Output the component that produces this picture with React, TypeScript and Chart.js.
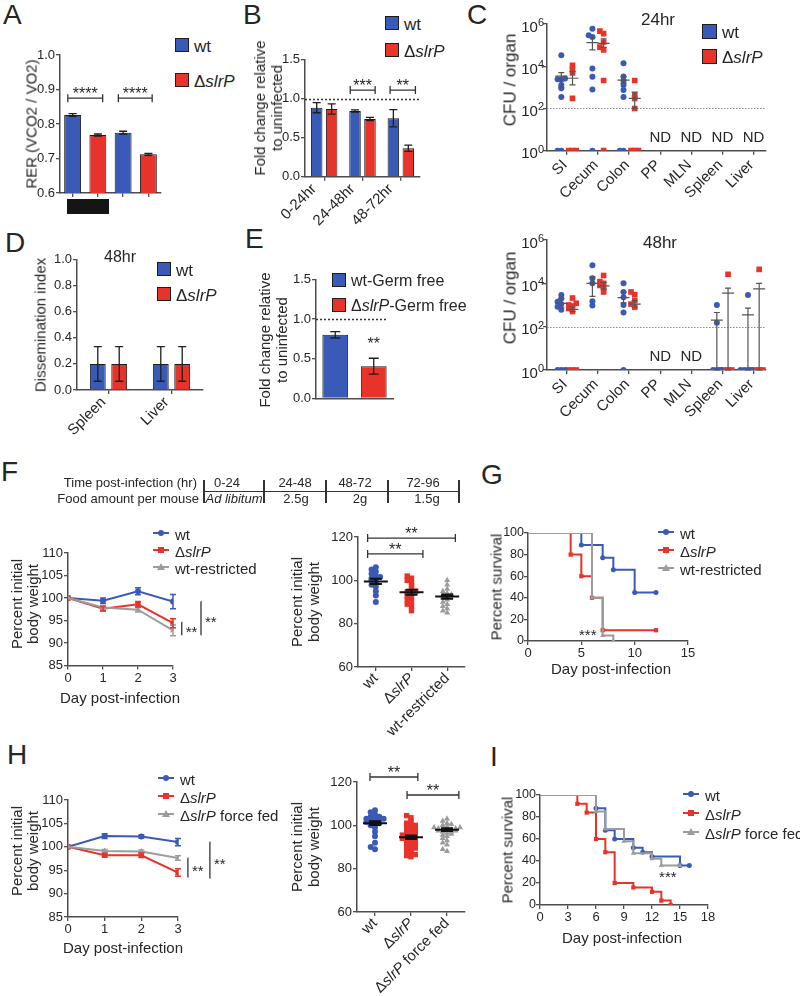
import React, { useEffect, useRef } from 'react';
import { Chart, registerables } from 'chart.js';

Chart.register(...registerables);

const FONT = '"Liberation Sans", Arial, Helvetica, sans-serif';
const TXT = '#262626';
const AXC = '#4d4d4d';
const BLUE = '#3a5ab7';
const RED = '#e8332a';
const GRAY = '#9c9c9c';
const EDGE = '#1e1e1e';

/* ---------------- DATA ---------------- */
// A: respiratory exchange ratio
const aBars = ['wt', 'ΔslrP', 'wt', 'ΔslrP'];
const aRER = [0.826, 0.768, 0.775, 0.712];
const aRERErr = [0.004, 0.003, 0.004, 0.003];

// B: food intake fold change
const bPeriods = ['0-24hr', '24-48hr', '48-72hr'];
const bWt = [0.885, 0.842, 0.749];
const bWtErr = [0.065, 0.015, 0.11];
const bSlrP = [0.868, 0.74, 0.364];
const bSlrPErr = [0.065, 0.02, 0.04];

// C: CFU per organ (1 = not detected, plotted on the axis)
const cOrgans = ['SI', 'Cecum', 'Colon', 'PP', 'MLN', 'Spleen', 'Liver'];
const cLogTicks = [1, 1e2, 1e4, 1e6];
const c24Wt = [
  [3.3e4, 2.6e3, 2.4e3, 2.3e3, 1.3e3, 900, 350, 1, 1],
  [5.9e5, 2.9e5, 2.4e5, 7.8e3, 3.2e3, 800, 1],
  [1.4e4, 3.3e3, 2.1e3, 1.3e3, 750, 350, 1, 1],
  [], [], [], [],
];
const c24SlrP = [
  [1.1e4, 7e3, 4.8e3, 300, 1, 1, 1],
  [4.6e5, 3.5e5, 1.4e5, 8e4, 6e4, 2.1e3, 1],
  [2.1e3, 430, 300, 100, 1, 1, 1],
  [], [], [], [],
];
const c24WtMean = [3.4e3, 1.3e5, 2.2e3];
const c24WtLo = [1e3, 5.9e4, 1.6e3];
const c24WtHi = [5e3, 2.3e5, 3.2e3];
const c24SlrPMean = [2.7e3, 1.2e5, 300];
const c24SlrPLo = [1.3e3, 7.9e4, 100];
const c24SlrPHi = [5.5e3, 2e5, 600];

const c48Wt = [
  [2.9e3, 2e3, 1.4e3, 1.1e3, 830, 600, 1, 1, 1],
  [6.9e4, 1.7e4, 1e4, 1.5e3, 950],
  [1e4, 4e3, 2.3e3, 1e3, 450, 1],
  [], [],
  [1e3, 150, 1, 1, 1],
  [2.9e3, 1, 1, 1, 1],
];
const c48SlrP = [
  [2.1e3, 1.2e3, 1e3, 900, 700, 500, 1, 1, 1],
  [2.3e4, 1.2e4, 1e4, 8e3, 6e3, 4e3],
  [4e3, 3e3, 1.6e3, 1.1e3, 800],
  [], [],
  [2.6e4, 1, 1, 1, 1],
  [4.4e4, 1, 1, 1, 1],
];
const c48Groups = [0, 1, 2, 5, 6];
const c48WtMean = [1.2e3, 1e4, 2.2e3, 200, 350];
const c48WtLo = [800, 2.5e3, 1.26e3, 1, 1];
const c48WtHi = [2e3, 2e4, 4e3, 450, 720];
const c48SlrPMean = [630, 7.6e3, 1.1e3, 3.5e3, 5.5e3];
const c48SlrPLo = [500, 5.6e3, 800, 1, 1];
const c48SlrPHi = [830, 1.1e4, 1.6e3, 6e3, 1e4];

// D: dissemination index
const dOrgans = ['Spleen', 'Liver'];
const dWt = [0.2, 0.2];
const dWtErr = [0.133, 0.133];
const dSlrP = [0.2, 0.2];
const dSlrPErr = [0.133, 0.133];

// E: germ free fold change
const eGroups = ['wt-Germ free', 'ΔslrP-Germ free'];
const eValues = [0.8, 0.405];
const eErr = [0.04, 0.1];

// F: body weight with food restriction
const fDays = [0, 1, 2, 3];
const fWt = [100, 99.4, 101.5, 99.2];
const fWtErr = [0, 0.6, 0.8, 1.6];
const fSlrP = [100, 97.6, 98.6, 94.4];
const fSlrPErr = [0, 0.5, 0.6, 1.0];
const fRestr = [100, 97.9, 97.4, 92.8];
const fRestrErr = [0, 0.4, 0.5, 1.2];
const fScWt = [106, 105, 104, 103, 102, 101.5, 101, 100.5, 100, 99, 98, 97, 95, 93, 90];
const fScSlrP = [102, 101, 100, 99, 97.5, 96, 95, 94.5, 94, 93, 92, 91, 90, 89, 88, 86];
const fScRestr = [100, 98, 96, 95, 94, 93.5, 93, 92.5, 92, 91, 90, 89, 88, 87, 86, 85];
const fScMean = [99.5, 94.5, 92.5];
const fScSem = [1.2, 1.1, 1.0];

// G: survival with food restriction
const gWtDays = [0, 5, 7, 8, 10, 12];
const gWtSurv = [100, 89, 77, 66, 45, 45];
const gSlrPDays = [0, 4, 5, 6, 7, 12];
const gSlrPSurv = [100, 80, 60, 40, 10, 10];
const gRestrDays = [0, 6, 7, 8];
const gRestrSurv = [100, 40, 5, 0];

// H: body weight with force feeding
const hWt = [100, 102.3, 102.2, 101.0];
const hWtErr = [0, 0.5, 0.3, 0.8];
const hSlrP = [100, 98.2, 98.2, 94.5];
const hSlrPErr = [0, 0.4, 0.5, 0.8];
const hFF = [100, 99.1, 99.0, 97.6];
const hFFErr = [0, 0.3, 0.3, 0.5];
const hScWt = [107, 106, 105, 104, 104, 103.5, 103, 103, 102.5, 102, 102, 101.5, 101, 101, 100.5, 100, 99, 97, 95, 92, 90, 89];
const hScSlrP = [104.5, 103.5, 102, 101, 100.5, 100, 99.5, 99, 98.5, 98, 97.5, 97, 96.5, 96, 95.5, 95, 95, 94.5, 94, 94, 93.5, 93, 92.5, 92, 91.5, 91, 90.5, 90, 89.5, 89, 88.5, 88, 87, 86.5, 86, 85.5];
const hScFF = [103, 102, 101, 100.5, 100, 99.5, 99, 99, 98.5, 98.5, 98, 98, 98, 97.5, 97.5, 97, 97, 96.5, 96, 95.5, 95, 94, 93, 92, 91, 89, 88];
const hScMean = [101, 94.5, 98];
const hScSem = [0.9, 0.8, 0.6];

// I: survival with force feeding
const iWtDays = [0, 6, 7, 8, 10, 11, 12, 15, 16];
const iWtSurv = [100, 88, 68, 60, 52, 48, 44, 36, 36];
const iSlrPDays = [0, 4, 5, 6, 7, 8, 10, 12, 13, 14];
const iSlrPSurv = [100, 92, 84, 60, 48, 20, 16, 12, 4, 0];
const iFFDays = [0, 6, 7, 9, 10, 12, 13, 15];
const iFFSurv = [100, 85, 69, 58, 47, 42, 36, 36];

// F table
const tableTimes = ['0-24', '24-48', '48-72', '72-96'];
const tableFood = ['Ad libitum', '2.5g', '2g', '1.5g'];

/* ---------------- HELPERS ---------------- */
function swarm(vals: number[], thr: number, step: number): number[] {
  const idx = vals.map((_, i) => i).sort((a, b) => vals[a] - vals[b]);
  const off = new Array(vals.length).fill(0);
  let start = -Infinity;
  let k = 0;
  idx.forEach((i) => {
    const v = vals[i];
    if (v - start > thr) { start = v; k = 0; } else k++;
    const kk = k % 9;
    const m = Math.ceil(kk / 2) * (kk % 2 ? -1 : 1);
    off[i] = m * step;
  });
  return off;
}

const TICK = 13;
const gridStyle = { display: true, drawOnChartArea: false, drawTicks: true, tickLength: 4, color: AXC, lineWidth: 1.3 };
const borderStyle = { display: true, color: AXC, width: 1.5 };

function linY(min: number, max: number, step: number, dec: number, size = TICK, pad = 1) {
  return {
    type: 'linear', min, max, grid: gridStyle, border: borderStyle,
    ticks: { stepSize: step, color: TXT, font: { family: FONT, size }, padding: pad, callback: (v: any) => Number(v).toFixed(dec) },
  };
}
function linX(min: number, max: number, step: number, size = TICK) {
  return {
    type: 'linear', min, max, grid: gridStyle, border: borderStyle,
    ticks: { stepSize: step, color: TXT, font: { family: FONT, size }, padding: 1, maxRotation: 0 },
  };
}
function catX(labels: string[], ticksOn = true) {
  return {
    type: 'category', labels, offset: true,
    grid: ticksOn ? { ...gridStyle, offset: false } : { display: false },
    border: borderStyle, ticks: { display: false },
  };
}
function catLinX(n: number, min: number, max: number, first = 0) {
  return {
    type: 'linear', min, max, grid: gridStyle, border: borderStyle, ticks: { display: false },
    afterBuildTicks: (s: any) => { s.ticks = Array.from({ length: n }, (_, i) => ({ value: i + first })); },
  };
}

const extrasPlugin: any = {
  id: 'extras',
  afterDatasetsDraw(chart: any) {
    const o = (chart.options.plugins && chart.options.plugins.extras) || {};
    const ctx = chart.ctx;
    const xs = chart.scales.x;
    const ys = chart.scales.y;
    const px = (v: number) => xs.getPixelForValue(v);
    const py = (v: number) => ys.getPixelForValue(v);
    const A = chart.chartArea;
    ctx.save();
    chart.data.datasets.forEach((ds: any, di: number) => {
      if (!ds.errors) return;
      const meta = chart.getDatasetMeta(di);
      ctx.strokeStyle = ds.errorColor || EDGE;
      ctx.lineWidth = ds.errorWidth || 1.3;
      meta.data.forEach((el: any, i: number) => {
        const e = ds.errors[i];
        if (!e) return;
        const raw = ds.data[i];
        const v = typeof raw === 'number' ? raw : raw.y;
        const c = ds.errorCap ?? 4;
        const x = el.x;
        const y1 = py(v + e);
        const y2 = py(v - e);
        ctx.beginPath();
        ctx.moveTo(x, y1); ctx.lineTo(x, y2);
        ctx.moveTo(x - c, y1); ctx.lineTo(x + c, y1);
        ctx.moveTo(x - c, y2); ctx.lineTo(x + c, y2);
        ctx.stroke();
      });
    });
    (o.hlines || []).forEach((h: any) => {
      ctx.strokeStyle = h.color || '#333';
      ctx.lineWidth = h.width || 1.3;
      ctx.setLineDash(h.dash || [2, 2]);
      const y = Math.round(py(h.y)) + 0.5;
      ctx.beginPath();
      ctx.moveTo(A.left, y);
      ctx.lineTo(h.x2 !== undefined ? px(h.x2) : A.right, y);
      ctx.stroke();
      ctx.setLineDash([]);
    });
    (o.meanBars || []).forEach((m: any) => {
      ctx.strokeStyle = m.color || '#444';
      ctx.lineWidth = m.width || 1.2;
      const x = px(m.x);
      const w = m.w ?? 7;
      const c = m.c ?? 3.5;
      const ym = py(m.mean), yl = py(m.lo), yh = py(m.hi);
      ctx.beginPath();
      ctx.moveTo(x - w, ym); ctx.lineTo(x + w, ym);
      ctx.moveTo(x, yl); ctx.lineTo(x, yh);
      ctx.moveTo(x - c, yl); ctx.lineTo(x + c, yl);
      ctx.moveTo(x - c, yh); ctx.lineTo(x + c, yh);
      ctx.stroke();
    });
    (o.brackets || []).forEach((b: any) => {
      const x1 = px(b.x1), x2 = px(b.x2), y = py(b.y);
      ctx.strokeStyle = '#333';
      ctx.lineWidth = 1.3;
      ctx.beginPath();
      ctx.moveTo(x1, y); ctx.lineTo(x2, y);
      ctx.moveTo(x1, y - 4); ctx.lineTo(x1, y + 4);
      ctx.moveTo(x2, y - 4); ctx.lineTo(x2, y + 4);
      ctx.stroke();
      ctx.fillStyle = TXT;
      ctx.font = `${b.size || 16}px ${FONT}`;
      ctx.textAlign = 'center';
      ctx.textBaseline = 'alphabetic';
      ctx.fillText(b.text, (x1 + x2) / 2, y + (b.dy ?? 1));
    });
    (o.vbrackets || []).forEach((b: any) => {
      const x = px(b.x), y1 = py(b.y1), y2 = py(b.y2), t = b.tick ?? 6;
      const size = b.size || 15;
      ctx.strokeStyle = '#333';
      ctx.lineWidth = 1.3;
      ctx.beginPath();
      ctx.moveTo(x - t, y1); ctx.lineTo(x, y1); ctx.lineTo(x, y2); ctx.lineTo(x - t, y2);
      ctx.stroke();
      ctx.fillStyle = TXT;
      ctx.font = `${size}px ${FONT}`;
      ctx.textAlign = 'left';
      ctx.textBaseline = 'alphabetic';
      ctx.fillText(b.text, x + 4, (y1 + y2) / 2 + 0.57 * size);
    });
    (o.texts || []).forEach((t: any) => {
      const size = t.size || 14;
      ctx.fillStyle = t.color || TXT;
      ctx.font = `${size}px ${FONT}`;
      ctx.textAlign = t.align || 'center';
      ctx.textBaseline = 'alphabetic';
      const k = t.ast ? 0.57 : 0.36;
      ctx.fillText(t.text, px(t.x), py(t.y) + k * size);
    });
    if (o.richX) {
      const r = o.richX;
      const size = r.size || 15;
      r.labels.forEach((segs: any[], i: number) => {
        const v = r.at ? r.at[i] : i;
        const x = px(v) + (r.dx || 0);
        const y = xs.top + (r.dy ?? 10);
        ctx.save();
        ctx.translate(x, y);
        ctx.rotate(-Math.PI / 4);
        ctx.textBaseline = 'middle';
        ctx.textAlign = 'left';
        ctx.fillStyle = TXT;
        const fonts = segs.map((s: any) => `${s.it ? 'italic ' : ''}${size}px ${FONT}`);
        const ws = segs.map((s: any, k: number) => { ctx.font = fonts[k]; return ctx.measureText(s.t).width; });
        let cx = -ws.reduce((a: number, b: number) => a + b, 0);
        segs.forEach((s: any, k: number) => { ctx.font = fonts[k]; ctx.fillText(s.t, cx, 0); cx += ws[k]; });
        ctx.restore();
      });
    }
    if (o.logLabels) {
      o.logLabels.forEach((p: number) => {
        const y = py(Math.pow(10, p));
        const xr = A.left - 3;
        ctx.fillStyle = TXT;
        ctx.textAlign = 'right';
        ctx.textBaseline = 'alphabetic';
        ctx.font = `11px ${FONT}`;
        const ew = ctx.measureText(String(p)).width;
        ctx.fillText(String(p), xr, y + 2);
        ctx.font = `15px ${FONT}`;
        ctx.fillText('10', xr - ew, y + 7.5);
      });
    }
    ctx.restore();
  },
};

type Box = { left: number; top: number; width: number; height: number };
type Area = { l: number; t: number; r: number; b: number };

function ChartPanel({ box, area, config }: { box: Box; area: Area; config: any }) {
  const ref = useRef<HTMLCanvasElement>(null);
  useEffect(() => {
    const cfg = config;
    const o = cfg.options || (cfg.options = {});
    o.responsive = false;
    o.maintainAspectRatio = false;
    o.animation = false;
    o.devicePixelRatio = 1;
    o.layout = { padding: { left: 0, top: area.t - box.top, right: box.left + box.width - area.r, bottom: 0 } };
    const xH = box.top + box.height - area.b;
    const yW = area.l - box.left;
    o.scales.x.afterFit = (s: any) => { s.height = xH; };
    o.scales.y.afterFit = (s: any) => { s.width = yW; };
    o.plugins = { ...(o.plugins || {}), legend: { display: false }, tooltip: { enabled: false } };
    const chart = new Chart(ref.current as HTMLCanvasElement, { ...cfg, plugins: [extrasPlugin] });
    return () => chart.destroy();
  }, []);
  return (
    <canvas
      ref={ref}
      width={box.width}
      height={box.height}
      style={{ position: 'absolute', left: box.left, top: box.top, width: box.width, height: box.height }}
    />
  );
}

function Txt({ x, y, size = 15, align = 'center', rot = 0, italic = false, lh, children, color = TXT }: any) {
  const tx = align === 'left' ? '0%' : align === 'right' ? '-100%' : '-50%';
  return (
    <div
      style={{
        position: 'absolute', left: x, top: y,
        transform: `translate(${tx}, -50%)${rot ? ` rotate(${rot}deg)` : ''}`,
        fontFamily: FONT, fontSize: size, lineHeight: `${lh || size}px`, whiteSpace: 'nowrap',
        fontStyle: italic ? 'italic' : 'normal', color, textAlign: 'center',
      }}
    >
      {children}
    </div>
  );
}

function SqLeg({ x, y, color, s = 14, fs = 17, children }: any) {
  return (
    <>
      <div style={{ position: 'absolute', left: x, top: y - s / 2, width: s - 2, height: s - 2, background: color, border: `1px solid ${EDGE}` }} />
      <Txt x={x + s + 5} y={y + 1} size={fs} align="left">{children}</Txt>
    </>
  );
}

function Marker({ x, y, color, kind }: any) {
  if (kind === 'tri') {
    return <div style={{ position: 'absolute', left: x - 4, top: y - 4, width: 0, height: 0, borderLeft: '4px solid transparent', borderRight: '4px solid transparent', borderBottom: `7px solid ${color}` }} />;
  }
  return <div style={{ position: 'absolute', left: x - 3, top: y - 3, width: 6, height: 6, background: color, borderRadius: kind === 'sq' ? 0 : '50%' }} />;
}

function LineLeg({ x, y, color, kind, fs = 15, w = 16, children }: any) {
  return (
    <>
      <div style={{ position: 'absolute', left: x, top: y - 1, width: w, height: 2, background: color }} />
      <Marker x={x + w / 2} y={y} color={color} kind={kind} />
      <Txt x={x + w + 6} y={y + 1} size={fs} align="left">{children}</Txt>
    </>
  );
}

const Slrp = () => (<>Δ<i>slrP</i></>);

/* ---------------- CHART CONFIGS ---------------- */
function cfgA() {
  return {
    type: 'bar',
    data: {
      labels: aBars,
      datasets: [{ data: aRER, errors: aRERErr, errorCap: 4, backgroundColor: [BLUE, RED, BLUE, RED], borderColor: EDGE, borderWidth: 1, barPercentage: 0.67, categoryPercentage: 1 }],
    },
    options: {
      scales: { x: catX(aBars), y: linY(0.6, 1.0, 0.1, 1) },
      plugins: { extras: { brackets: [{ x1: -0.19, x2: 1.19, y: 0.875, text: '****' }, { x1: 1.81, x2: 3.15, y: 0.875, text: '****' }] } },
    },
  };
}

function groupedBars(labels: string[], w: number[], we: number[], k: number[], ke: number[], cp: number, bp: number) {
  return {
    labels,
    datasets: [
      { data: w, errors: we, backgroundColor: BLUE, borderColor: EDGE, borderWidth: 1, categoryPercentage: cp, barPercentage: bp },
      { data: k, errors: ke, backgroundColor: RED, borderColor: EDGE, borderWidth: 1, categoryPercentage: cp, barPercentage: bp },
    ],
  };
}

function cfgB() {
  return {
    type: 'bar',
    data: groupedBars(bPeriods, bWt, bWtErr, bSlrP, bSlrPErr, 0.78, 0.77),
    options: {
      scales: { x: catX(bPeriods), y: linY(0, 1.5, 0.5, 1) },
      plugins: {
        extras: {
          hlines: [{ y: 1.0, dash: [2, 2], color: '#333', width: 1.5 }],
          brackets: [{ x1: 0.68, x2: 1.33, y: 1.11, text: '***' }, { x1: 1.72, x2: 2.38, y: 1.11, text: '**' }],
          richX: { labels: bPeriods.map((t) => [{ t }]), dx: -10, dy: 10, size: 15 },
        },
      },
    },
  };
}

function cfgC(wt: number[][], ko: number[][], groups: number[], wm: number[], wl: number[], wh: number[], km: number[], kl: number[], kh: number[], nd: number[]) {
  const wPts: any[] = [];
  const kPts: any[] = [];
  wt.forEach((vals, i) => {
    const off = swarm(vals.map((v) => Math.log10(v)), 0.15, 0.12);
    vals.forEach((v, j) => wPts.push({ x: i + 1 - 0.18 + off[j], y: v }));
  });
  ko.forEach((vals, i) => {
    const off = swarm(vals.map((v) => Math.log10(v)), 0.15, 0.12);
    vals.forEach((v, j) => kPts.push({ x: i + 1 + 0.18 + off[j], y: v }));
  });
  const meanBars: any[] = [];
  groups.forEach((g, i) => {
    meanBars.push({ x: g + 1 - 0.18, mean: wm[i], lo: wl[i], hi: wh[i], w: 6, c: 3, color: '#555' });
    meanBars.push({ x: g + 1 + 0.18, mean: km[i], lo: kl[i], hi: kh[i], w: 6, c: 3, color: '#555' });
  });
  return {
    type: 'scatter',
    data: {
      datasets: [
        { data: wPts, pointStyle: 'circle', pointRadius: 3, backgroundColor: BLUE, borderWidth: 0 },
        { data: kPts, pointStyle: 'rect', pointRadius: 4, backgroundColor: RED, borderWidth: 0 },
      ],
    },
    options: {
      scales: {
        x: catLinX(7, 0.36, 7.4, 1),
        y: {
          type: 'logarithmic', min: 1, max: 1e6, grid: gridStyle, border: borderStyle, ticks: { display: false },
          afterBuildTicks: (s: any) => { s.ticks = cLogTicks.map((v) => ({ value: v })); },
        },
      },
      plugins: {
        extras: {
          hlines: [{ y: 100, dash: [1.5, 1.5], color: '#8a8a8a', width: 1.2 }],
          meanBars,
          texts: nd.map((g) => ({ x: g + 1, y: 4.6, text: 'ND', size: 15 })),
          logLabels: [0, 2, 4, 6],
          richX: { labels: cOrgans.map((t) => [{ t }]), at: cOrgans.map((_, i) => i + 1), dx: -2, dy: 12, size: 15 },
        },
      },
    },
  };
}

function cfgD() {
  return {
    type: 'bar',
    data: groupedBars(dOrgans, dWt, dWtErr, dSlrP, dSlrPErr, 0.68, 0.74),
    options: {
      scales: { x: catX(dOrgans), y: linY(0, 1.0, 0.2, 1) },
      plugins: { extras: { richX: { labels: dOrgans.map((t) => [{ t }]), dx: -5, dy: 10, size: 15 } } },
    },
  };
}

function cfgE() {
  return {
    type: 'bar',
    data: {
      labels: eGroups,
      datasets: [{ data: eValues, errors: eErr, errorCap: 5, backgroundColor: [BLUE, RED], borderColor: EDGE, borderWidth: 1, barPercentage: 0.67, categoryPercentage: 1 }],
    },
    options: {
      scales: { x: catX(eGroups, false), y: linY(0, 1.5, 0.5, 1) },
      plugins: {
        extras: {
          hlines: [{ y: 1.0, dash: [2, 2], color: '#333', width: 1.5, x2: 1.34 }],
          texts: [{ x: 1, y: 0.734, text: '**', size: 16, ast: true }],
        },
      },
    },
  };
}

function lineDs(days: number[], vals: number[], errs: number[], color: string, style: string, r: number) {
  return {
    data: days.map((d, i) => ({ x: d, y: vals[i] })), errors: errs, errorColor: color, errorCap: 3, errorWidth: 1.5,
    borderColor: color, backgroundColor: color, borderWidth: 2, pointRadius: r, pointStyle: style, pointBorderWidth: 0,
  };
}

function cfgLine(w: number[], we: number[], k: number[], ke: number[], g: number[], ge: number[], vb: any[]) {
  return {
    type: 'line',
    data: {
      datasets: [
        lineDs(fDays, g, ge, GRAY, 'triangle', 3.5),
        lineDs(fDays, k, ke, RED, 'rect', 3.8),
        lineDs(fDays, w, we, BLUE, 'circle', 3),
      ],
    },
    options: {
      scales: { x: linX(0, 3, 1), y: linY(85, 110, 5, 0) },
      plugins: { extras: { vbrackets: vb } },
    },
  };
}

function cfgScatter(a: number[], b: number[], c: number[], means: number[], sems: number[], labels: any[], brackets: any[]) {
  const mk = (vals: number[], i: number) => {
    const off = swarm(vals, 1.4, 0.12);
    return vals.map((v, j) => ({ x: i + off[j], y: v }));
  };
  return {
    type: 'scatter',
    data: {
      datasets: [
        { data: mk(a, 0), pointStyle: 'circle', pointRadius: 3, backgroundColor: BLUE, borderWidth: 0 },
        { data: mk(b, 1), pointStyle: 'rect', pointRadius: 3.8, backgroundColor: RED, borderWidth: 0 },
        { data: mk(c, 2), pointStyle: 'triangle', pointRadius: 3.5, backgroundColor: GRAY, borderWidth: 0 },
      ],
    },
    options: {
      scales: { x: catLinX(3, -0.5, 2.5, 0), y: linY(60, 120, 20, 0) },
      plugins: {
        extras: {
          meanBars: means.map((m, i) => ({ x: i, mean: m, lo: m - sems[i], hi: m + sems[i], w: 12, c: 6, color: '#111', width: 2 })),
          brackets,
          richX: { labels, dx: 0, dy: 9, size: 15 },
        },
      },
    },
  };
}

function kmDs(days: number[], surv: number[], color: string, style: string, r: number) {
  return {
    data: days.map((d, i) => ({ x: d, y: surv[i] })), stepped: true,
    borderColor: color, backgroundColor: color, borderWidth: 2, pointStyle: style,
    pointRadius: days.map((_, i) => (i === 0 ? 0 : r)), pointBorderWidth: 0, fill: false,
  };
}

function cfgG() {
  return {
    type: 'line',
    data: {
      datasets: [
        kmDs(gRestrDays, gRestrSurv, GRAY, 'triangle', 3),
        kmDs(gWtDays, gWtSurv, BLUE, 'circle', 2.5),
        kmDs(gSlrPDays, gSlrPSurv, RED, 'rect', 3),
      ],
    },
    options: {
      scales: { x: linX(0, 15, 5), y: linY(0, 100, 20, 0, 12.5, 0) },
      plugins: { extras: { texts: [{ x: 5.6, y: 9, text: '***', size: 15, ast: true }] } },
    },
  };
}

function cfgI() {
  return {
    type: 'line',
    data: {
      datasets: [
        kmDs(iFFDays, iFFSurv, GRAY, 'triangle', 3),
        kmDs(iWtDays, iWtSurv, BLUE, 'circle', 2.5),
        kmDs(iSlrPDays, iSlrPSurv, RED, 'rect', 3),
      ],
    },
    options: {
      scales: { x: linX(0, 18, 3), y: linY(0, 100, 20, 0, 12.5, 0) },
      plugins: { extras: { texts: [{ x: 13.7, y: 29, text: '***', size: 15, ast: true }] } },
    },
  };
}

const slrpSeg = [{ t: 'Δ' }, { t: 'slrP', it: true }];

/* ---------------- APP ---------------- */
export default function App() {
  const tableCols = [204, 264, 326, 388, 459];
  const timeX = [227, 295, 355, 423];
  const foodX = [234, 296, 360, 427];
  return (
    <div style={{ position: 'absolute', left: 0, top: 0, width: 800, height: 996, background: '#fff', overflow: 'hidden', fontFamily: FONT, color: TXT }}>
      {/* Panel letters */}
      <Txt x={3} y={15} size={28} align="left">A</Txt>
      <Txt x={243} y={15} size={28} align="left">B</Txt>
      <Txt x={467} y={15} size={28} align="left">C</Txt>
      <Txt x={5} y={243} size={28} align="left">D</Txt>
      <Txt x={245} y={239} size={28} align="left">E</Txt>
      <Txt x={1} y={472} size={28} align="left">F</Txt>
      <Txt x={481} y={475} size={28} align="left">G</Txt>
      <Txt x={7} y={755} size={28} align="left">H</Txt>
      <Txt x={490} y={757} size={28} align="left">I</Txt>

      {/* A */}
      <ChartPanel box={{ left: 0, top: 40, width: 175, height: 180 }} area={{ l: 60, t: 55, r: 161, b: 193 }} config={cfgA()} />
      <div style={{ position: 'absolute', left: 67, top: 199, width: 42, height: 15, background: '#151515' }} />
      <Txt x={31} y={124} size={15} rot={-90}>RER (VCO2 / VO2)</Txt>
      <SqLeg x={175} y={45} color={BLUE}>wt</SqLeg>
      <SqLeg x={175} y={80} color={RED}><Slrp /></SqLeg>

      {/* B */}
      <ChartPanel box={{ left: 200, top: 45, width: 230, height: 200 }} area={{ l: 305, t: 59.7, r: 420, b: 176.7 }} config={cfgB()} />
      <Txt x={268} y={108} size={15} rot={-90} lh={17}>Fold change relative<br />to uninfected</Txt>
      <SqLeg x={385} y={23} color={BLUE}>wt</SqLeg>
      <SqLeg x={385} y={50} color={RED}><Slrp /></SqLeg>

      {/* C 24hr */}
      <ChartPanel box={{ left: 420, top: 10, width: 380, height: 205 }} area={{ l: 547, t: 24, r: 766, b: 150.7 }}
        config={cfgC(c24Wt, c24SlrP, [0, 1, 2], c24WtMean, c24WtLo, c24WtHi, c24SlrPMean, c24SlrPLo, c24SlrPHi, [3, 4, 5, 6])} />
      <Txt x={658} y={19} size={17}>24hr</Txt>
      <Txt x={510} y={80} size={17} rot={-90}>CFU / organ</Txt>
      <SqLeg x={702} y={31} color={BLUE} s={15}>wt</SqLeg>
      <SqLeg x={702} y={56} color={RED} s={15}><Slrp /></SqLeg>

      {/* C 48hr */}
      <ChartPanel box={{ left: 420, top: 225, width: 380, height: 205 }} area={{ l: 547, t: 240, r: 766, b: 370 }}
        config={cfgC(c48Wt, c48SlrP, c48Groups, c48WtMean, c48WtLo, c48WtHi, c48SlrPMean, c48SlrPLo, c48SlrPHi, [3, 4])} />
      <Txt x={660} y={242} size={17}>48hr</Txt>
      <Txt x={510} y={298} size={17} rot={-90}>CFU / organ</Txt>

      {/* D */}
      <ChartPanel box={{ left: 0, top: 245, width: 215, height: 205 }} area={{ l: 77, t: 259.5, r: 203, b: 390 }} config={cfgD()} />
      <Txt x={120} y={257} size={16}>48hr</Txt>
      <Txt x={40} y={325} size={15} rot={-90}>Dissemination index</Txt>
      <SqLeg x={157} y={269} color={BLUE}>wt</SqLeg>
      <SqLeg x={157} y={294} color={RED}><Slrp /></SqLeg>

      {/* E */}
      <ChartPanel box={{ left: 280, top: 265, width: 120, height: 145 }} area={{ l: 316, t: 279.3, r: 393, b: 398.3 }} config={cfgE()} />
      <Txt x={273} y={340} size={15} rot={-90} lh={17}>Fold change relative<br />to uninfected</Txt>
      <SqLeg x={332} y={280} color={BLUE} fs={16}>wt-Germ free</SqLeg>
      <SqLeg x={332} y={305} color={RED} fs={16}><Slrp />-Germ free</SqLeg>

      {/* F table */}
      <Txt x={197} y={482} size={13} align="right">Time post-infection (hr)</Txt>
      <Txt x={199} y={498} size={13} align="right">Food amount per mouse</Txt>
      <div style={{ position: 'absolute', left: 204, top: 491, width: 255, height: 1.3, background: '#333' }} />
      {tableCols.map((x, i) => (
        <div key={i} style={{ position: 'absolute', left: x - 0.6, top: 480, width: 1.3, height: 23, background: '#333' }} />
      ))}
      {tableTimes.map((t, i) => (<Txt key={t} x={timeX[i]} y={482} size={13}>{t}</Txt>))}
      {tableFood.map((t, i) => (<Txt key={t} x={foodX[i]} y={498} size={13} italic={i === 0}>{t}</Txt>))}

      {/* F line */}
      <ChartPanel box={{ left: 0, top: 535, width: 240, height: 180 }} area={{ l: 68, t: 553, r: 173, b: 665.5 }}
        config={cfgLine(fWt, fWtErr, fSlrP, fSlrPErr, fRestr, fRestrErr, [
          { x: 3.25, y1: 94.6, y2: 91.8, text: '**', tick: 0.16 },
          { x: 3.8, y1: 99.2, y2: 91.8, text: '**', tick: 0.16 },
        ])} />
      <Txt x={25} y={604} size={15} rot={-90} lh={16}>Percent initial<br />body weight</Txt>
      <Txt x={120} y={697} size={15}>Day post-infection</Txt>
      <LineLeg x={153} y={533} color={BLUE} kind="circle">wt</LineLeg>
      <LineLeg x={153} y={550} color={RED} kind="sq"><Slrp /></LineLeg>
      <LineLeg x={153} y={567} color={GRAY} kind="tri">wt-restricted</LineLeg>

      {/* F scatter */}
      <ChartPanel box={{ left: 280, top: 520, width: 200, height: 240 }} area={{ l: 358, t: 537, r: 465, b: 667 }}
        config={cfgScatter(fScWt, fScSlrP, fScRestr, fScMean, fScSem,
          [[{ t: 'wt' }], slrpSeg, [{ t: 'wt-restricted' }]],
          [{ x1: -0.23, x2: 2.23, y: 119.5, text: '**' }, { x1: -0.23, x2: 1.32, y: 112.2, text: '**' }])} />
      <Txt x={305} y={602} size={15} rot={-90} lh={17}>Percent initial<br />body weight</Txt>

      {/* G */}
      <ChartPanel box={{ left: 480, top: 515, width: 310, height: 170 }} area={{ l: 528, t: 533, r: 688, b: 641 }} config={cfgG()} />
      <Txt x={496} y={587} size={15} rot={-90}>Percent survival</Txt>
      <Txt x={611} y={668} size={15}>Day post-infection</Txt>
      <LineLeg x={658} y={532} color={BLUE} kind="circle">wt</LineLeg>
      <LineLeg x={658} y={550} color={RED} kind="sq"><Slrp /></LineLeg>
      <LineLeg x={658} y={568} color={GRAY} kind="tri">wt-restricted</LineLeg>

      {/* H line */}
      <ChartPanel box={{ left: 0, top: 782, width: 240, height: 180 }} area={{ l: 68, t: 800, r: 178, b: 917 }}
        config={cfgLine(hWt, hWtErr, hSlrP, hSlrPErr, hFF, hFFErr, [
          { x: 3.27, y1: 97.6, y2: 93.5, text: '**', tick: 0.16 },
          { x: 3.87, y1: 101.0, y2: 93.3, text: '**', tick: 0.16 },
        ])} />
      <Txt x={25} y={851} size={15} rot={-90} lh={16}>Percent initial<br />body weight</Txt>
      <Txt x={123} y={947} size={15}>Day post-infection</Txt>
      <LineLeg x={158} y={778} color={BLUE} kind="circle"> wt</LineLeg>
      <LineLeg x={158} y={796} color={RED} kind="sq"><Slrp /></LineLeg>
      <LineLeg x={158} y={814} color={GRAY} kind="tri"><Slrp /> force fed</LineLeg>

      {/* H scatter */}
      <ChartPanel box={{ left: 280, top: 765, width: 200, height: 231 }} area={{ l: 357, t: 782, r: 465, b: 912 }}
        config={cfgScatter(hScWt, hScSlrP, hScFF, hScMean, hScSem,
          [[{ t: 'wt' }], slrpSeg, [...slrpSeg, { t: ' force fed' }]],
          [{ x1: -0.14, x2: 1.19, y: 122.3, text: '**' }, { x1: 0.89, x2: 2.33, y: 114, text: '**' }])} />
      <Txt x={305} y={847} size={15} rot={-90} lh={17}>Percent initial<br />body weight</Txt>

      {/* I */}
      <ChartPanel box={{ left: 480, top: 777, width: 310, height: 219 }} area={{ l: 540, t: 795, r: 708, b: 905 }} config={cfgI()} />
      <Txt x={507} y={850} size={15} rot={-90}>Percent survival</Txt>
      <Txt x={622} y={937} size={15}>Day post-infection</Txt>
      <LineLeg x={683} y={794} color={BLUE} kind="circle">wt</LineLeg>
      <LineLeg x={683} y={813} color={RED} kind="sq"><Slrp /></LineLeg>
      <LineLeg x={683} y={832} color={GRAY} kind="tri"><Slrp /> force fed</LineLeg>
    </div>
  );
}
